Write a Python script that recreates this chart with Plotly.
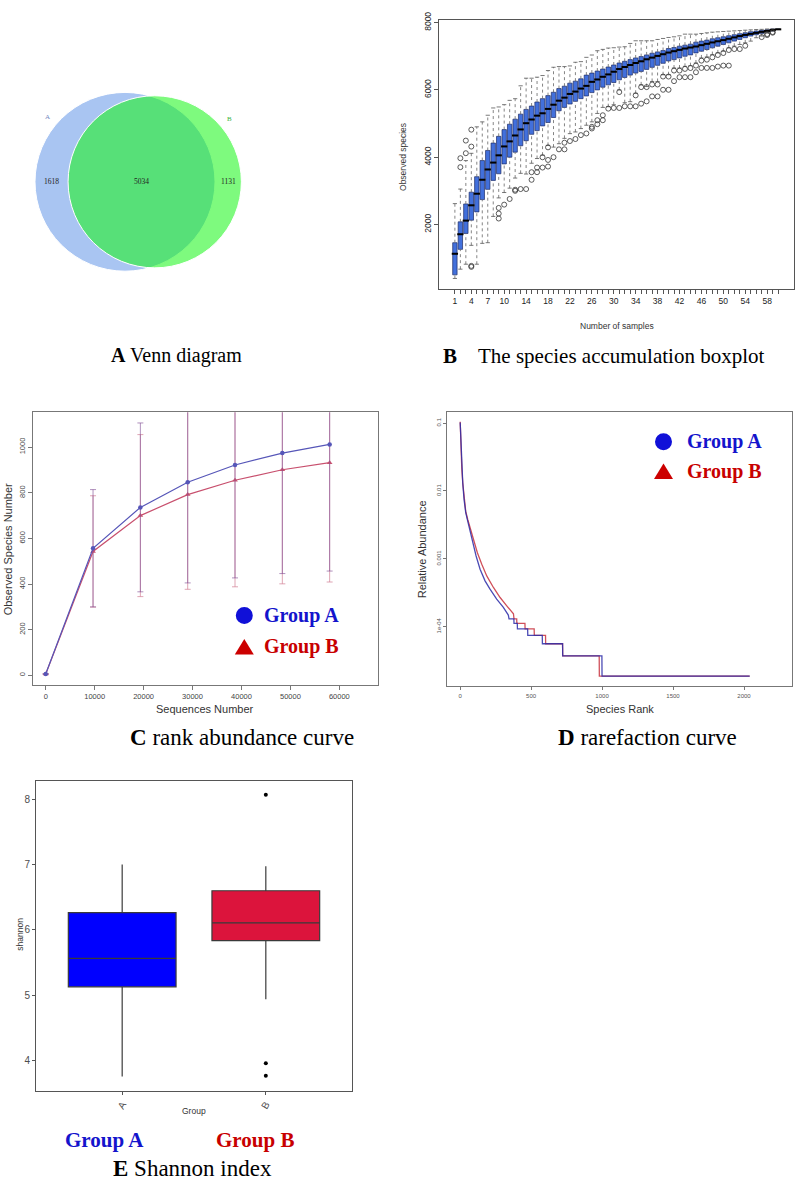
import math
import plotly.graph_objects as go

W, H = 798, 1180

# ---------------- data ----------------
# A  Venn diagram
venn_sets = ["A", "B"]
venn_only_a = 1618
venn_shared = 5034
venn_only_b = 1131

# B  species accumulation boxplot
samples = list(range(1, 61))
acc_tick_labels = [1, 4, 7, 10, 14, 18, 22, 26, 30, 34, 38, 42, 46, 50, 54, 58]
acc_median = [1130, 1710, 2115, 2570, 2915, 3330, 3635, 3840, 4055, 4320,
              4470, 4645, 4825, 5010, 5120, 5235, 5305, 5435, 5560, 5680,
              5770, 5880, 5950, 6040, 6120, 6240, 6310, 6390, 6460, 6540,
              6620, 6680, 6740, 6800, 6850, 6910, 6960, 7010, 7060, 7110,
              7150, 7190, 7230, 7260, 7290, 7330, 7370, 7410, 7445, 7480,
              7520, 7560, 7600, 7635, 7665, 7695, 7725, 7750, 7780, 7800]
acc_q3 = [1458, 2079, 2610, 2960, 3420, 3900, 4200, 4420, 4620, 4820,
          4980, 5130, 5280, 5420, 5520, 5640, 5740, 5830, 5930, 6040,
          6110, 6200, 6260, 6330, 6440, 6500, 6560, 6620, 6680, 6740,
          6800, 6850, 6900, 6950, 6990, 7040, 7090, 7130, 7170, 7230,
          7260, 7300, 7330, 7360, 7420, 7450, 7480, 7520, 7550, 7580,
          7610, 7640, 7670, 7700, 7730, 7750, 7770, 7790, 7810, 7800]
acc_q1 = [503, 1261, 1734, 2128, 2374, 2740, 3044, 3310, 3507, 3800,
          4000, 4150, 4340, 4490, 4680, 4790, 4930, 5030, 5180, 5380,
          5480, 5580, 5660, 5740, 5820, 5920, 6000, 6080, 6150, 6220,
          6300, 6370, 6440, 6500, 6550, 6610, 6670, 6730, 6790, 6860,
          6900, 6950, 7000, 7040, 7100, 7150, 7200, 7250, 7300, 7350,
          7400, 7450, 7500, 7550, 7600, 7640, 7680, 7720, 7750, 7800]
acc_high = [2620, 3053, 3899, 4115, 4902, 5050, 5247, 5463, 5493, 5561,
            5689, 5738, 6122, 6348, 6348, 6378, 6427, 6575, 6673, 6693,
            6693, 6712, 6821, 6840, 6968, 7037, 7165, 7204, 7244, 7253,
            7273, 7283, 7381, 7460, 7460, 7460, 7460, 7499, 7529, 7558,
            7578, 7607, 7657, 7657, 7657, 7677, 7696, 7716, 7726, 7736,
            7745, 7755, 7765, 7775, 7785, 7794, 7800, 7810, 7815, 7800]
acc_low = [396, 672, 819, 1380, 819, 1439, 1459, 2240, 2790, 2950,
           3080, 3380, 3520, 3500, 3820, 3960, 4060, 4350, 4300, 4400,
           4560, 4700, 4750, 4850, 4950, 5050, 5300, 5480, 5500, 5560,
           6000, 5620, 5650, 5900, 6150, 6100, 6250, 6250, 6450, 6450,
           6650, 6650, 6700, 6720, 6800, 6950, 6980, 7050, 7100, 7150,
           7250, 7300, 7350, 7400, 7450, 7550, 7600, 7690, 7745, 7800]
acc_outliers = [(2, 3970), (2, 3704), (3, 4118), (3, 4493), (4, 4818), (4, 4315),
                (4, 740), (4, 770), (9, 2492), (9, 2325), (9, 2177), (10, 2590),
                (11, 2758), (12, 3033), (12, 3000), (13, 3053), (14, 3053),
                (15, 3328), (15, 3554), (16, 3554), (16, 3692), (17, 3692),
                (17, 3997), (18, 3722), (18, 3918), (18, 4292), (19, 4000),
                (20, 4233), (21, 4233), (21, 4430), (22, 4480), (23, 4540),
                (24, 4656), (25, 4705), (26, 4902), (26, 4853), (27, 4980),
                (27, 5099), (28, 5099), (28, 5247), (29, 5443), (30, 5463),
                (31, 5463), (31, 5935), (32, 5512), (33, 5512), (34, 5512),
                (34, 5837), (35, 5591), (35, 6083), (36, 5660), (36, 6083),
                (37, 5807), (37, 6161), (38, 5807), (38, 6161), (39, 6004),
                (39, 6397), (40, 6004), (40, 6397), (41, 6260), (41, 6575),
                (42, 6378), (42, 6575), (43, 6378), (43, 6624), (44, 6378),
                (44, 6650), (45, 6525), (45, 6722), (46, 6653), (46, 6870),
                (47, 6653), (47, 6899), (48, 6653), (48, 6968), (49, 6693),
                (49, 7037), (50, 6722), (50, 7096), (51, 6722), (51, 7185),
                (52, 7214), (53, 7214), (54, 7312), (57, 7570), (58, 7660),
                (58, 7630), (59, 7720), (59, 7700)]

# C  curve of observed species vs sequences
seq_depth = [0, 9670, 19340, 29010, 38680, 48350, 58020]
seq_ticks = [0, 10000, 20000, 30000, 40000, 50000, 60000]
obs_a = [6, 557, 736, 846, 922, 974, 1012]
obs_a_sd = [0, 257, 370, 441, 495, 528, 555]
obs_b = [6, 543, 700, 792, 855, 901, 932]
obs_b_sd = [0, 244, 355, 415, 467, 500, 523]

# D  relative abundance vs species rank
rank_a = [1, 7, 12, 19, 28, 40, 54, 70, 89, 113, 141, 176, 211, 258, 305, 340,
          345, 379, 380, 403, 404, 476, 477, 579, 580, 722, 723, 999, 1000, 2040]
abund_a = [0.102, 0.041, 0.0231, 0.0131, 0.0075, 0.0048, 0.0036, 0.00257,
           0.00173, 0.0011, 0.0007, 0.000473, 0.000357, 0.000255, 0.000192,
           0.000148, 0.00013, 0.00013, 0.000112, 0.000112, 0.000093, 0.000093,
           0.0000745, 0.0000745, 0.000056, 0.000056, 0.0000372, 0.0000372,
           0.0000186, 0.0000186]
rank_b = [1, 7, 12, 19, 28, 40, 54, 70, 94, 122, 153, 188, 235, 282, 329, 376,
          380, 399, 400, 457, 458, 522, 523, 602, 603, 722, 723, 980, 981, 2040]
abund_b = [0.105, 0.038, 0.0219, 0.0131, 0.0079, 0.005, 0.0038, 0.0029,
           0.00194, 0.00123, 0.00083, 0.00056, 0.000378, 0.000269, 0.000203,
           0.000155, 0.00013, 0.00013, 0.000112, 0.000112, 0.000093, 0.000093,
           0.0000745, 0.0000745, 0.000056, 0.000056, 0.0000372, 0.0000372,
           0.0000186, 0.0000186]
rank_ticks = [0, 500, 1000, 1500, 2000]
abund_ticks = [0.1, 0.01, 0.001, 0.0001]
abund_tick_text = ["0.1", "0.01", "0.001", "1e-04"]

# E  Shannon index
groups = ["A", "B"]
sh_q1 = [5.128, 5.833]
sh_median = [5.564, 6.106]
sh_q3 = [6.263, 6.597]
sh_low = [3.755, 4.936]
sh_high = [7.0, 6.973]
sh_out_group = ["B", "B", "B"]
sh_out_value = [8.067, 3.957, 3.766]

# ---------------- helpers ----------------
def dom_x(l, r):
    return [l / W, r / W]


def dom_y(t, b):
    return [1 - b / H, 1 - t / H]


def px(x):
    return x / W


def py(y):
    return 1 - y / H


SANS = "Liberation Sans"
SERIF = "Liberation Serif"
BLUE_TXT = "#1414CC"
RED_TXT = "#C80000"

fig = go.Figure()

# ---------------- B ----------------
fig.add_trace(go.Box(
    x=samples, q1=acc_q1, median=acc_median, q3=acc_q3,
    lowerfence=acc_q1, upperfence=acc_q3, width=0.8, whiskerwidth=0,
    boxpoints=False, fillcolor="#4270DC", line=dict(color="#1d2b66", width=0.7),
    xaxis="x", yaxis="y", hoverinfo="skip"))
wx, wy = [], []
for s, lo, a, b, hi in zip(samples, acc_low, acc_q1, acc_q3, acc_high):
    wx += [s, s, None, s, s, None]
    wy += [b, hi, None, lo, a, None]
fig.add_trace(go.Scatter(x=wx, y=wy, mode="lines", xaxis="x", yaxis="y",
                         line=dict(color="#666666", width=0.8, dash="dot")))
fig.add_trace(go.Scatter(x=samples + samples, y=acc_high + acc_low, mode="markers",
                         xaxis="x", yaxis="y",
                         marker=dict(symbol="line-ew", size=3,
                                     line=dict(color="#555555", width=0.8))))
fig.add_trace(go.Scatter(x=samples, y=acc_median, mode="markers", xaxis="x", yaxis="y",
                         marker=dict(symbol="line-ew", size=4.5,
                                     line=dict(color="#000000", width=2))))
fig.add_trace(go.Scatter(x=[o[0] for o in acc_outliers], y=[o[1] for o in acc_outliers],
                         mode="markers", xaxis="x", yaxis="y",
                         marker=dict(symbol="circle-open", size=5, color="#333333",
                                     line=dict(width=0.8))))

# ---------------- C ----------------
fig.add_trace(go.Scatter(
    x=seq_depth, y=obs_b, mode="lines+markers", xaxis="x2", yaxis="y2",
    line=dict(color="#c8506e", width=1.2),
    marker=dict(symbol="triangle-up", size=5, color="#c8506e"),
    error_y=dict(type="data", array=obs_b_sd, visible=True,
                 color="rgba(210,130,150,0.8)", thickness=0.9, width=3)))
fig.add_trace(go.Scatter(
    x=seq_depth, y=obs_a, mode="lines+markers", xaxis="x2", yaxis="y2",
    line=dict(color="#5656b8", width=1.2),
    marker=dict(symbol="circle", size=4.5, color="#5656b8"),
    error_y=dict(type="data", array=obs_a_sd, visible=True,
                 color="rgba(130,80,150,0.7)", thickness=0.9, width=3)))

# ---------------- D ----------------
fig.add_trace(go.Scatter(x=rank_b, y=abund_b, mode="lines", xaxis="x3", yaxis="y3",
                         line=dict(color="#d0505a", width=1.3)))
fig.add_trace(go.Scatter(x=rank_a, y=abund_a, mode="lines", xaxis="x3", yaxis="y3",
                         opacity=0.85, line=dict(color="#2b2ba8", width=1.3)))

# ---------------- E ----------------
box_colors = ["#0000FF", "#DC143C"]
for i, g in enumerate(groups):
    fig.add_trace(go.Box(
        x=[g], q1=[sh_q1[i]], median=[sh_median[i]], q3=[sh_q3[i]],
        lowerfence=[sh_low[i]], upperfence=[sh_high[i]], width=0.75,
        whiskerwidth=0, boxpoints=False, fillcolor=box_colors[i],
        line=dict(color="#3a3a3a", width=1.2), xaxis="x4", yaxis="y4",
        hoverinfo="skip"))
fig.add_trace(go.Scatter(x=sh_out_group, y=sh_out_value, mode="markers",
                         xaxis="x4", yaxis="y4",
                         marker=dict(size=4, color="#000000")))

# ---------------- A: Venn geometry from set sizes ----------------
rA = math.sqrt((venn_only_a + venn_shared) / math.pi)
rB = math.sqrt((venn_only_b + venn_shared) / math.pi)


def lens_area(d, r1, r2):
    a1 = r1 * r1 * math.acos((d * d + r1 * r1 - r2 * r2) / (2 * d * r1))
    a2 = r2 * r2 * math.acos((d * d + r2 * r2 - r1 * r1) / (2 * d * r2))
    a3 = 0.5 * math.sqrt((-d + r1 + r2) * (d + r1 - r2) * (d - r1 + r2) * (d + r1 + r2))
    return a1 + a2 - a3


lo, hi = abs(rA - rB) + 1e-9, rA + rB - 1e-9
for _ in range(200):
    mid = (lo + hi) / 2
    if lens_area(mid, rA, rB) > venn_shared:
        lo = mid
    else:
        hi = mid
dAB = (lo + hi) / 2
k = 90.0 / rA  # px per unit

shapes = [
    dict(type="circle", xref="x5", yref="y5", x0=-rA, x1=rA, y0=-rA, y1=rA,
         fillcolor="#A9C5F2", line=dict(color="white", width=1)),
    dict(type="circle", xref="x5", yref="y5", x0=dAB - rB, x1=dAB + rB, y0=-rB, y1=rB,
         fillcolor="rgba(20,245,20,0.55)", line=dict(color="white", width=1)),
]

annotations = []


def ann(text, x, y, size, color="#000000", family=SERIF, xanchor="center",
        yanchor="middle", angle=0, xref="paper", yref="paper"):
    annotations.append(dict(text=text, x=x, y=y, xref=xref, yref=yref,
                            showarrow=False, xanchor=xanchor, yanchor=yanchor,
                            textangle=angle,
                            font=dict(size=size, color=color, family=family)))


# Venn texts
ann(str(venn_only_a), (-rA + dAB - rB) / 2, 0, 7.5, "#222222", xref="x5", yref="y5")
ann(str(venn_shared), (dAB - rB + rA) / 2, 0, 7.5, "#222222", xref="x5", yref="y5")
ann(str(venn_only_b), (rA + dAB + rB) / 2, 0, 7.5, "#222222", xref="x5", yref="y5")
ca, sa = math.cos(math.radians(140)), math.sin(math.radians(140))
ann(venn_sets[0], 1.13 * rA * ca, 1.13 * rA * sa, 7, "#6f86c0", xref="x5", yref="y5")
ann(venn_sets[1], dAB - 1.13 * rB * ca, 1.13 * rB * sa, 7, "#3cb43c", xref="x5", yref="y5")

# captions
ann("<b>A</b> Venn diagram", px(176), py(350), 20)
ann("<b>B</b>&nbsp;&nbsp;&nbsp;&nbsp;The species accumulation boxplot", px(441), py(350), 21,
    xanchor="left")
ann("<b>C</b> rank abundance curve", px(128), py(734), 23, xanchor="left")
ann("<b>D</b> rarefaction curve", px(556), py(734), 23, xanchor="left")
ann("<b>Group A</b>", px(104), py(1140), 21, BLUE_TXT)
ann("<b>Group B</b>", px(255), py(1140), 21, RED_TXT)
ann("<b>E</b> Shannon index", px(192), py(1168), 23)

# axis titles
ann("Observed species", px(403), py(150), 8.5, "#333333", SANS, angle=-90)
ann("Number of samples", px(617), py(320), 8.5, "#333333", SANS)
ann("Observed Species Number", px(8), py(545), 11, "#333333", SANS, angle=-90)
ann("Sequences Number", px(205), py(706), 11, "#333333", SANS)
ann("Relative Abundance", px(422), py(545), 11, "#333333", SANS, angle=-90)
ann("Species Rank", px(620), py(706), 11, "#333333", SANS)
ann("shannon", px(20), py(933), 8.5, "#333333", SANS, angle=-90)
ann("Group", px(194), py(1111), 8.5, "#333333", SANS)

# in-plot legends for C and D
for (cx, cy_a, cy_b, tx) in [(244.3, 611.7, 643.3, 262), (663.5, 436.7, 466.7, 685)]:
    shapes.append(dict(type="circle", xref="paper", yref="paper",
                       x0=px(cx - 8.5), x1=px(cx + 8.5), y0=py(cy_a + 8.5), y1=py(cy_a - 8.5),
                       fillcolor="#1010D8", line=dict(width=0)))
    shapes.append(dict(type="path", xref="paper", yref="paper",
                       path=f"M {px(cx - 9.5)},{py(cy_b + 7.5)} L {px(cx + 9.5)},{py(cy_b + 7.5)} "
                            f"L {px(cx)},{py(cy_b - 8)} Z",
                       fillcolor="#CC0000", line=dict(width=0)))
    ann("<b>Group A</b>", px(tx), py(cy_a), 20, BLUE_TXT, xanchor="left")
    ann("<b>Group B</b>", px(tx), py(cy_b), 20, RED_TXT, xanchor="left")


def frame(linecolor, **kw):
    d = dict(showline=True, mirror=True, linecolor=linecolor, linewidth=1,
             showgrid=False, zeroline=False, ticks="outside", ticklen=4,
             tickcolor=linecolor, tickwidth=1)
    d.update(kw)
    return d


tick_small = dict(family=SANS, size=8.5, color="#222222")

fig.update_layout(
    width=W, height=H, margin=dict(l=0, r=0, t=0, b=0),
    paper_bgcolor="white", plot_bgcolor="rgba(0,0,0,0)",
    showlegend=False, hovermode=False,
    shapes=shapes, annotations=annotations,
    # B
    xaxis=frame("#555555", domain=dom_x(439, 794), range=[-1.9, 62.9], anchor="y",
                tickvals=samples,
                ticktext=[str(s) if s in acc_tick_labels else "" for s in samples],
                tickangle=0, tickfont=tick_small),
    yaxis=frame("#555555", domain=dom_y(12, 283), range=[80, 8080], anchor="x",
                tickvals=[2000, 4000, 6000, 8000], tickangle=-90, tickfont=tick_small),
    # C
    xaxis2=frame("#777777", domain=dom_x(33, 378), range=[-2600, 67900], anchor="y2",
                 tickvals=seq_ticks, tickformat="d",
                 tickfont=dict(family=SANS, size=7.5, color="#444444")),
    yaxis2=frame("#777777", domain=dom_y(407, 682), range=[-44, 1153], anchor="x2",
                 tickvals=[0, 200, 400, 600, 800, 1000], tickangle=-90,
                 tickfont=dict(family=SANS, size=7.5, color="#444444")),
    # D
    xaxis3=frame("#777777", domain=dom_x(447, 792), range=[-92, 2338], anchor="y3",
                 tickvals=rank_ticks, tickformat="d", ticklen=3,
                 tickfont=dict(family=SANS, size=6, color="#555555")),
    yaxis3=frame("#777777", domain=dom_y(407, 683), type="log", range=[-4.88, -0.84],
                 anchor="x3", tickvals=abund_ticks, ticktext=abund_tick_text,
                 tickangle=-90, ticklen=3,
                 tickfont=dict(family=SANS, size=6, color="#555555")),
    # E
    xaxis4=frame("#555555", domain=dom_x(36, 352), range=[-0.6, 1.6], anchor="y4",
                 type="category", categoryorder="array", categoryarray=groups,
                 tickangle=-60, ticklen=3,
                 tickfont=dict(family=SANS, size=10, color="#4d4d4d")),
    yaxis4=frame("#555555", domain=dom_y(778, 1090), range=[3.54, 8.28], anchor="x4",
                 tickvals=[4, 5, 6, 7, 8], ticklen=3,
                 tickfont=dict(family=SANS, size=10, color="#4d4d4d")),
    # Venn
    xaxis5=dict(domain=dom_x(0, 400), range=[-125 / k, 275 / k], visible=False,
                anchor="y5"),
    yaxis5=dict(domain=dom_y(0, 350), range=[-175 / k, 175 / k], visible=False,
                anchor="x5"),
)

fig.write_html("out.html",
               config={"displayModeBar": False, "staticPlot": True},
               post_script="document.body.style.margin='0px';"
                           "document.body.style.overflow='hidden';")
